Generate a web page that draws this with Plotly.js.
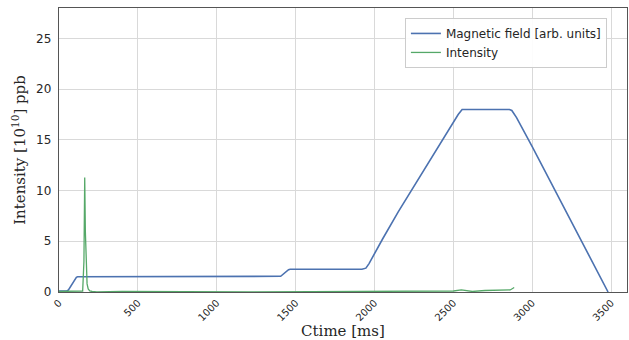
<!DOCTYPE html>
<html>
<head>
<meta charset="utf-8">
<script src="https://cdn.plot.ly/plotly-3.0.1.min.js"></script>
<style>html,body{margin:0;padding:0;background:#fff;}#chart{width:629px;height:340px;}</style>
</head>
<body>
<div id="chart"></div>
<script>
// Magnetic field [arb. units]
var magX = [0, 50, 60, 110, 118, 1395, 1405, 1455, 1465, 1920, 1945, 1965, 1985, 2050, 2150, 2300, 2450, 2530, 2555, 2855, 2870, 2885, 2900, 3000, 3200, 3480];
var magY = [0.1, 0.1, 0.2, 1.45, 1.5, 1.5, 1.55, 2.2, 2.25, 2.25, 2.35, 2.8, 3.4, 5.2, 7.9, 11.7, 15.4, 17.5, 18, 18, 17.9, 17.6, 17.2, 14.3, 8.3, 0];
// Intensity
var intX = [0, 50, 100, 140, 150, 158, 163, 167, 172, 178, 185, 195, 210, 240, 400, 600, 800, 1200, 1600, 2000, 2300, 2500, 2550, 2580, 2620, 2700, 2800, 2860, 2885];
var intY = [0.05, 0.05, 0.05, 0.05, 0.1, 3, 11.3, 6, 2.0, 0.8, 0.3, 0.1, 0.05, 0.02, 0.05, 0.03, 0.02, 0.02, 0.03, 0.04, 0.1, 0.1, 0.2, 0.15, 0.05, 0.15, 0.2, 0.2, 0.45];
var xTicks = [0, 500, 1000, 1500, 2000, 2500, 3000, 3500];
var yTicks = [0, 5, 10, 15, 20, 25];

var traces = [
  {x: magX, y: magY, type: 'scatter', mode: 'lines', name: 'Magnetic field [arb. units]',
   line: {color: '#4C72B0', width: 1.6}},
  {x: intX, y: intY, type: 'scatter', mode: 'lines', name: 'Intensity',
   line: {color: '#55A868', width: 1.3}}
];
var layout = {
  width: 629, height: 340,
  margin: {l: 59, r: 2, t: 8, b: 48},
  paper_bgcolor: '#ffffff', plot_bgcolor: '#ffffff',
  showlegend: true,
  legend: {x: 0.609, y: 0.965, xanchor: 'left', yanchor: 'top',
    bordercolor: '#cccccc', borderwidth: 1, bgcolor: 'rgba(255,255,255,0.9)',
    font: {family: 'DejaVu Sans', size: 12, color: '#262626'}, itemwidth: 30, tracegroupgap: 0},
  xaxis: {range: [0, 3600], tickvals: xTicks, ticktext: xTicks.map(String), tickangle: -45,
    showgrid: true, gridcolor: '#d9d9d9', gridwidth: 1, zeroline: false,
    showline: true, mirror: true, linecolor: '#555555', linewidth: 1.2,
    ticks: '', tickfont: {family: 'DejaVu Sans', size: 10, color: '#262626'},
    title: {text: 'Ctime [ms]', font: {family: 'DejaVu Serif', size: 15, color: '#262626'}, standoff: 3}},
  yaxis: {range: [0, 28], tickvals: yTicks, ticktext: yTicks.map(String),
    showgrid: true, gridcolor: '#d9d9d9', gridwidth: 1, zeroline: false,
    showline: true, mirror: true, linecolor: '#555555', linewidth: 1.2,
    ticks: '', ticklabelstandoff: 4, tickfont: {family: 'DejaVu Sans', size: 12, color: '#262626'},
    title: {text: 'Intensity [10<sup>10</sup>] ppb', font: {family: 'DejaVu Serif', size: 15, color: '#262626'}, standoff: 6}}
};
Plotly.newPlot('chart', traces, layout, {displayModeBar: false, staticPlot: true});
</script>
</body>
</html>
